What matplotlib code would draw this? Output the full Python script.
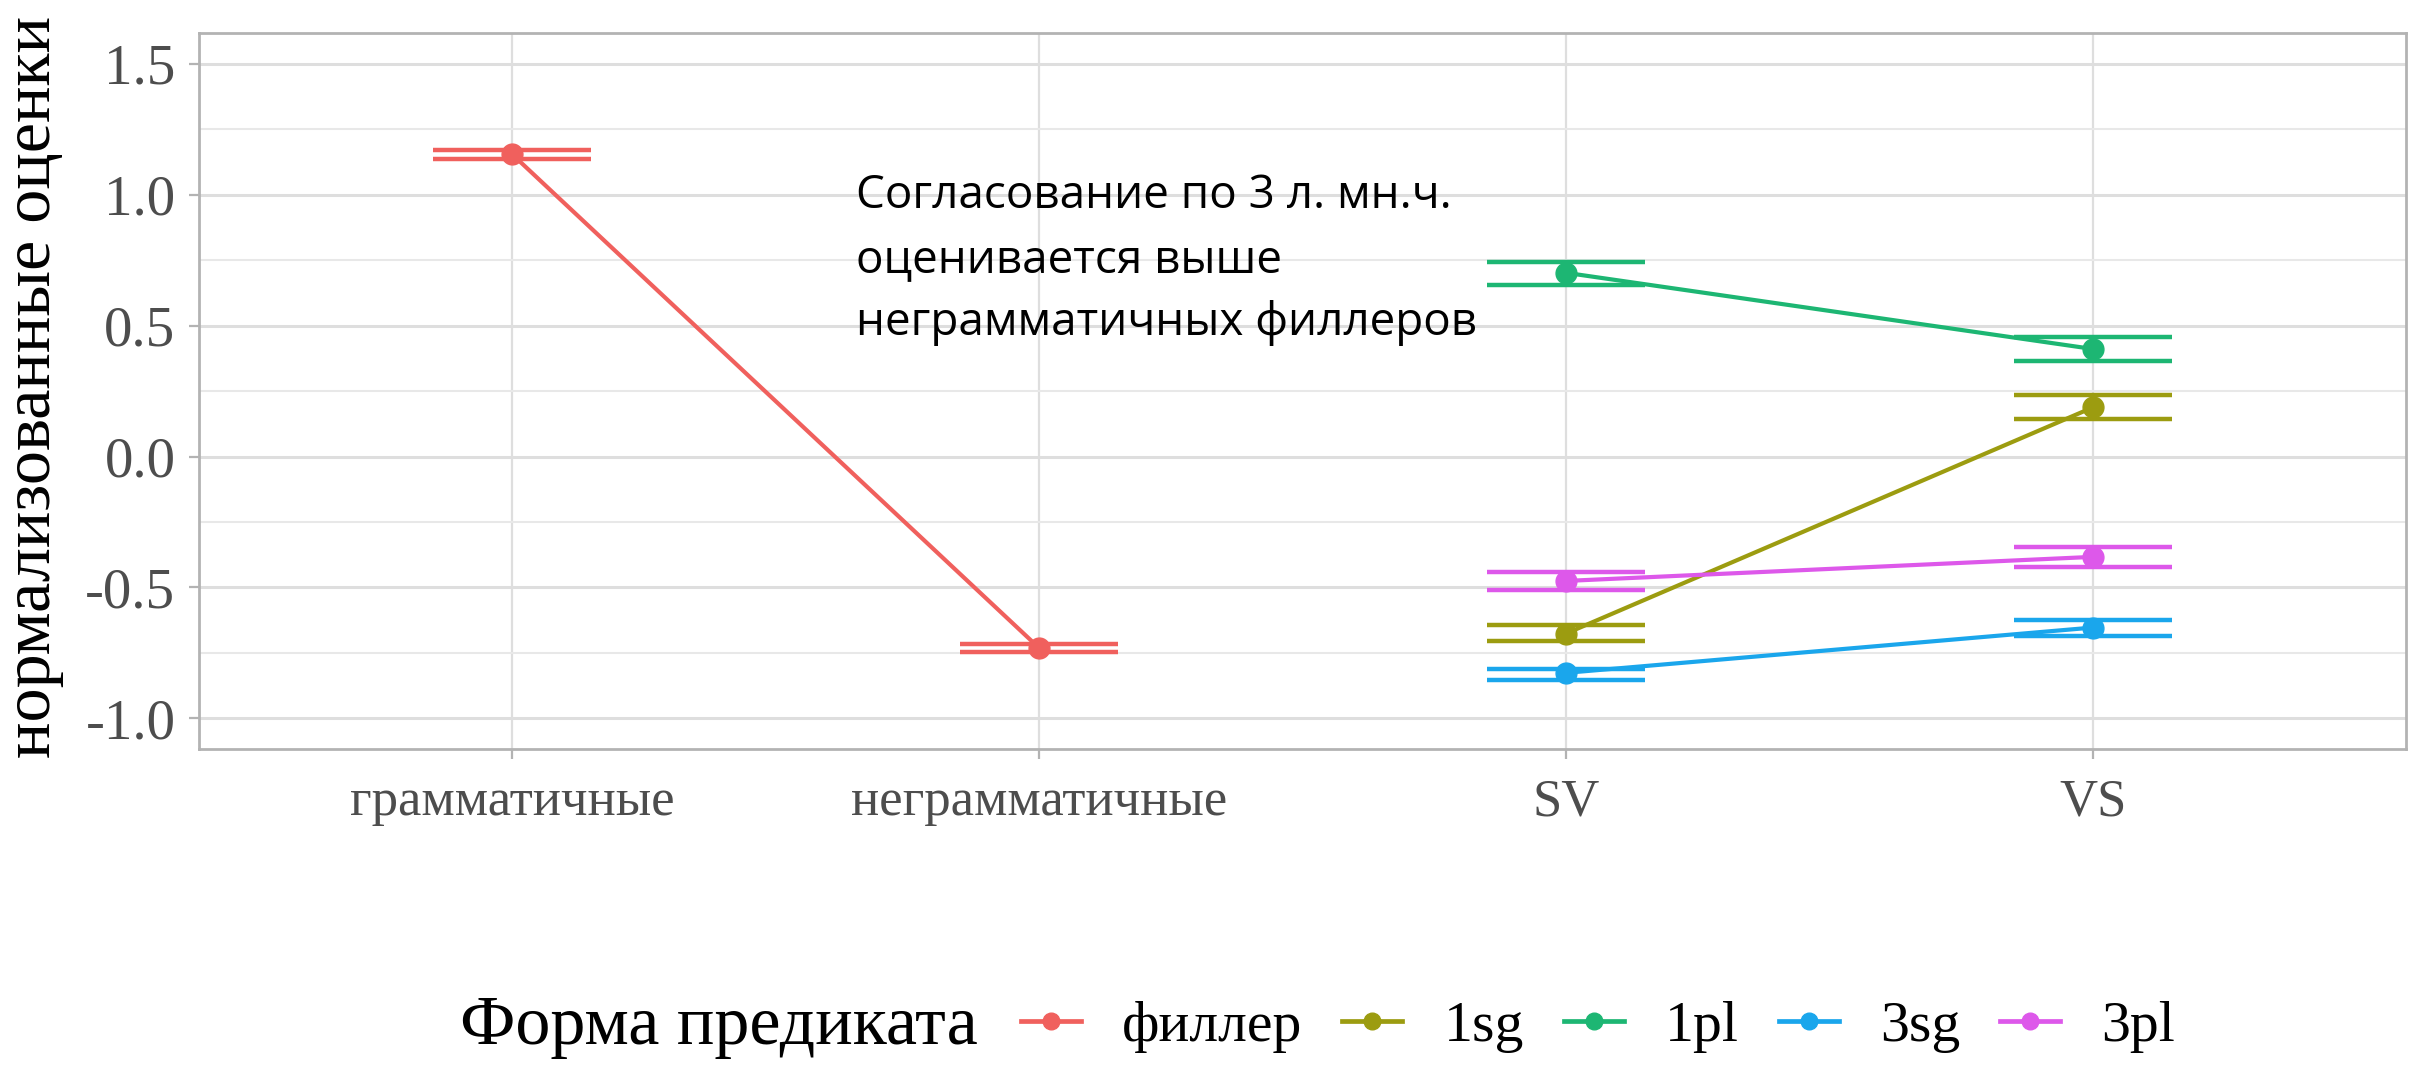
import matplotlib
matplotlib.use("Agg")
import matplotlib.pyplot as plt
from matplotlib.lines import Line2D

# conditions on the x axis
categories = ['грамматичные', 'неграмматичные', 'SV', 'VS']
series_names = ['филлер', '1sg', '1pl', '3sg', '3pl']
colors = ['#F0605D', '#9C9C10', '#1DB673', '#1AA6EC', '#DD58EA']

# fillers
filler_x = ['грамматичные', 'неграмматичные']
filler_mean = [1.155, -0.731]
filler_low = [1.138, -0.748]
filler_high = [1.171, -0.714]

# word order conditions
order_x = ['SV', 'VS']
sg1_mean = [-0.676, 0.188]
sg1_low = [-0.706, 0.142]
sg1_high = [-0.645, 0.235]
pl1_mean = [0.702, 0.411]
pl1_low = [0.655, 0.366]
pl1_high = [0.742, 0.457]
sg3_mean = [-0.826, -0.653]
sg3_low = [-0.854, -0.684]
sg3_high = [-0.810, -0.624]
pl3_mean = [-0.475, -0.383]
pl3_low = [-0.510, -0.421]
pl3_high = [-0.439, -0.347]

yticks = [-1.0, -0.5, 0.0, 0.5, 1.0, 1.5]
note = "Согласование по 3 л. мн.ч.\nоценивается выше\nнеграмматичных филлеров"

series = [
    (filler_x, filler_mean, filler_low, filler_high),
    (order_x, sg1_mean, sg1_low, sg1_high),
    (order_x, pl1_mean, pl1_low, pl1_high),
    (order_x, sg3_mean, sg3_low, sg3_high),
    (order_x, pl3_mean, pl3_low, pl3_high),
]

serif = 'Liberation Serif'

fig = plt.figure(figsize=(24.31, 10.65), dpi=100)
ax = fig.add_axes([0.0819, 0.2967, 0.9897 - 0.0819, 0.969 - 0.2967])

grid_col = '#DEDEDE'
for i in range(len(categories)):
    ax.axvline(i, color=grid_col, lw=1.6, zorder=0)
for y in yticks:
    ax.axhline(y, color=grid_col, lw=2.2, zorder=0)
for y in [-0.75, -0.25, 0.25, 0.75, 1.25]:
    ax.axhline(y, color='#E8E8E8', lw=1.5, zorder=0)

for (xs, mean, low, high), col in zip(series, colors):
    pos = [categories.index(c) for c in xs]
    ax.plot(pos, mean, color=col, lw=3.0, zorder=3)
    ax.hlines(low, [p - 0.15 for p in pos], [p + 0.15 for p in pos], color=col, lw=3.2, zorder=3)
    ax.hlines(high, [p - 0.15 for p in pos], [p + 0.15 for p in pos], color=col, lw=3.2, zorder=3)
    ax.vlines(pos, low, high, color=col, lw=3.2, zorder=3)
    ax.plot(pos, mean, 'o', color=col, ms=15, zorder=4)

ax.set_xlim(-0.594, 3.594)
ax.set_ylim(-1.117, 1.618)
ax.set_xticks(range(len(categories)))
ax.set_xticklabels(categories)
ax.set_yticks(yticks)
ax.set_yticklabels(['%.1f' % v for v in yticks])

for s in ax.spines.values():
    s.set_color('#B3B3B3')
    s.set_linewidth(2.0)
ax.tick_params(axis='both', colors='#B3B3B3', length=7, width=1.6,
               labelcolor='#4D4D4D', pad=10)
ax.tick_params(axis='x', pad=14, labelsize=38)
ax.tick_params(axis='y', labelsize=41)
for lab in ax.get_xticklabels() + ax.get_yticklabels():
    lab.set_family(serif)

ax.set_ylabel('нормализованные оценки', family=serif, fontsize=49)
ax.yaxis.set_label_coords(-0.0612, 0.505)

ax.text(0.653, 0.751, note, family='Open Sans', fontsize=33, va='center', ha='left',
        linespacing=1.5, zorder=5)

handles = [Line2D([0], [0], color=c, lw=3.4, marker='o', ms=12) for c in colors]
fig.text(460 / 2431, 1 - 1027 / 1065, 'Форма предиката', family=serif,
         fontsize=50.5, va='center', ha='left')
leg = fig.legend(handles, series_names, loc='center left', ncol=5,
                 bbox_to_anchor=(1021 / 2431, 1 - 1027 / 1065), frameon=False,
                 prop={'family': serif, 'size': 41.6},
                 handlelength=1.04, handletextpad=0.71, columnspacing=0.69,
                 borderaxespad=0, borderpad=0)

fig.savefig('out.png', dpi=100)
